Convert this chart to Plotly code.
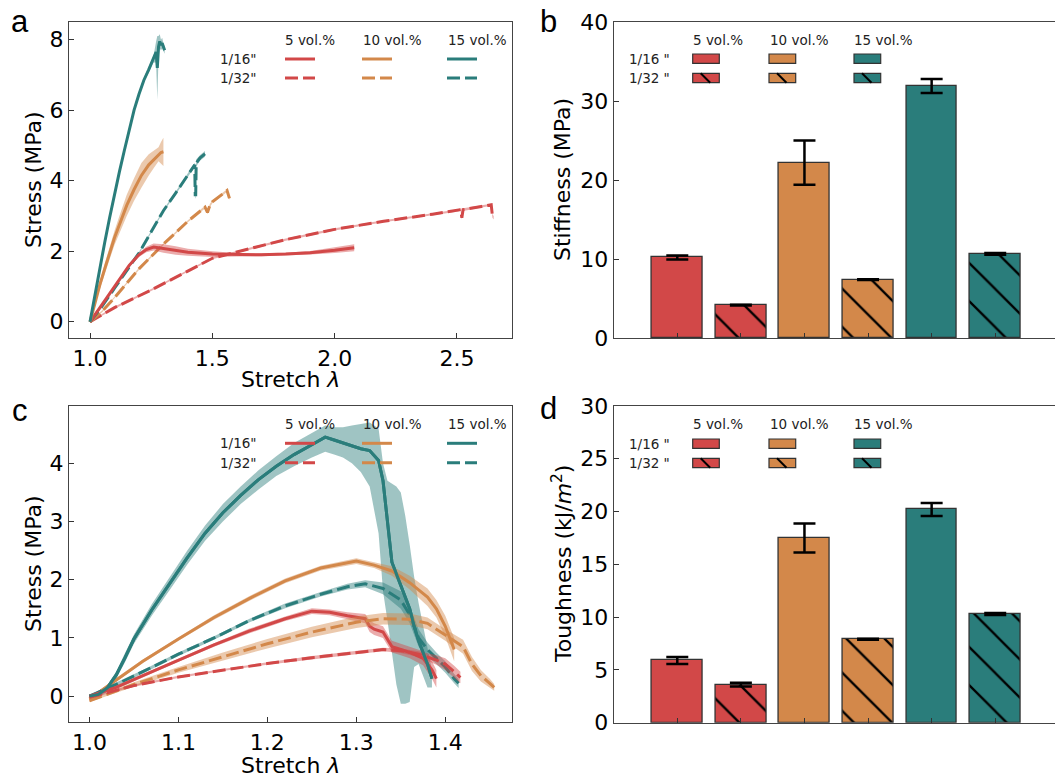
import plotly.graph_objects as go

W, H = 1055, 778


def px(x):
    return x / W


def py(y):
    return 1 - y / H


RED = "#D24848"
ORANGE = "#D3884A"
TEAL = "#2A7D7B"
RED_BAND = "rgba(210,72,72,0.45)"
ORANGE_BAND = "rgba(211,136,74,0.45)"
TEAL_BAND = "rgba(42,125,123,0.45)"

# ---------------- Panel a : stress-stretch (tension) ----------------
a_teal16_x = [1.0, 1.02, 1.04, 1.06, 1.08, 1.1, 1.12, 1.14, 1.16, 1.18, 1.2, 1.22, 1.24, 1.26, 1.27, 1.275, 1.28, 1.285, 1.29, 1.295, 1.30, 1.305]
a_teal16_y = [0.0, 0.78, 1.53, 2.25, 2.95, 3.62, 4.25, 4.85, 5.45, 6.0, 6.45, 6.85, 7.15, 7.45, 7.65, 7.2, 7.8, 7.95, 7.85, 7.9, 7.8, 7.7]
a_teal16_s = [0.03, 0.04, 0.05, 0.05, 0.05, 0.05, 0.05, 0.05, 0.05, 0.05, 0.05, 0.06, 0.08, 0.1, 0.3, 0.9, 0.3, 0.2, 0.15, 0.15, 0.1, 0.1]

a_orange16_x = [1.0, 1.02, 1.04, 1.06, 1.08, 1.1, 1.12, 1.15, 1.18, 1.21, 1.24, 1.26, 1.28, 1.29, 1.30]
a_orange16_y = [0.0, 0.55, 1.05, 1.5, 1.95, 2.38, 2.75, 3.3, 3.75, 4.15, 4.45, 4.6, 4.75, 4.8, 4.82]
a_orange16_s = [0.02, 0.06, 0.1, 0.15, 0.18, 0.2, 0.25, 0.3, 0.32, 0.35, 0.3, 0.25, 0.2, 0.3, 0.4]

a_red16_x = [1.0, 1.04, 1.08, 1.12, 1.16, 1.2, 1.23, 1.26, 1.3, 1.35, 1.4, 1.5, 1.6, 1.7, 1.8, 1.9, 2.0, 2.05, 2.08]
a_red16_y = [0.0, 0.4, 0.8, 1.2, 1.6, 1.9, 2.05, 2.12, 2.08, 2.02, 1.97, 1.92, 1.9, 1.9, 1.92, 1.96, 2.03, 2.08, 2.1]
a_red16_s = [0.02, 0.03, 0.03, 0.04, 0.05, 0.06, 0.08, 0.1, 0.12, 0.12, 0.1, 0.08, 0.05, 0.04, 0.04, 0.05, 0.08, 0.1, 0.1]

a_teal32_x = [1.0, 1.05, 1.1, 1.15, 1.2, 1.25, 1.3, 1.35, 1.4, 1.428, 1.43, 1.432, 1.434, 1.45, 1.47]
a_teal32_y = [0.0, 0.45, 0.95, 1.45, 1.95, 2.55, 3.15, 3.65, 4.15, 4.45, 3.6, 3.6, 4.5, 4.65, 4.76]
a_teal32_s = [0.02, 0.03, 0.03, 0.03, 0.03, 0.03, 0.03, 0.04, 0.05, 0.06, 0.1, 0.1, 0.1, 0.08, 0.08]

a_orange32_x = [1.0, 1.05, 1.1, 1.2, 1.3, 1.4, 1.47, 1.48, 1.49, 1.5, 1.56, 1.565, 1.57]
a_orange32_y = [0.0, 0.3, 0.68, 1.5, 2.2, 2.85, 3.25, 3.1, 3.3, 3.4, 3.72, 3.6, 3.5]
a_orange32_s = [0.02, 0.03, 0.03, 0.03, 0.03, 0.03, 0.04, 0.05, 0.05, 0.04, 0.04, 0.05, 0.05]

a_red32_x = [1.0, 1.1, 1.25, 1.4, 1.5, 1.6, 1.8, 2.0, 2.2, 2.4, 2.5, 2.515, 2.52, 2.525, 2.6, 2.64, 2.645, 2.65]
a_red32_y = [0.0, 0.4, 0.9, 1.45, 1.8, 1.98, 2.33, 2.62, 2.85, 3.05, 3.15, 3.18, 2.95, 3.18, 3.27, 3.32, 3.0, 2.95]
a_red32_s = [0.02, 0.03, 0.03, 0.03, 0.03, 0.03, 0.03, 0.03, 0.03, 0.03, 0.03, 0.04, 0.05, 0.04, 0.03, 0.03, 0.05, 0.05]

# ---------------- Panel c : stress-stretch (notched) ----------------
c_teal16_x = [1.0, 1.01, 1.02, 1.03, 1.04, 1.05, 1.07, 1.09, 1.11, 1.13, 1.15, 1.17, 1.19, 1.21, 1.23, 1.25, 1.265,
              1.275, 1.285, 1.295, 1.305, 1.315, 1.325, 1.33, 1.335, 1.34, 1.345, 1.35, 1.355, 1.36, 1.365, 1.37,
              1.375, 1.38, 1.385]
c_teal16_y = [0.0, 0.03, 0.14, 0.36, 0.66, 0.98, 1.48, 1.93, 2.38, 2.8, 3.15, 3.45, 3.72, 3.95, 4.15, 4.32, 4.45,
              4.4, 4.35, 4.3, 4.25, 4.22, 4.05, 3.7, 3.0, 2.3, 2.1, 1.9, 1.7, 1.5, 1.2, 0.95, 0.75, 0.55, 0.3]
c_teal16_lo = [-0.03, -0.02, 0.07, 0.3, 0.58, 0.9, 1.38, 1.82, 2.26, 2.67, 3.0, 3.3, 3.55, 3.78, 3.95, 4.1, 4.2,
               4.15, 4.1, 4.0, 3.85, 3.6, 2.8, 1.8, 1.3, 0.8, 0.2, -0.13, -0.13, -0.1, 0.5, 0.55, 0.35, 0.15, 0.15]
c_teal16_hi = [0.03, 0.07, 0.19, 0.42, 0.74, 1.06, 1.58, 2.04, 2.5, 2.93, 3.3, 3.6, 3.88, 4.12, 4.35, 4.52, 4.65,
               4.62, 4.62, 4.65, 4.68, 4.7, 4.6, 4.0, 3.7, 3.65, 3.6, 3.5, 3.1, 2.6, 2.05, 1.6, 1.2, 0.8, 0.45]

c_orange16_x = [1.0, 1.03, 1.06, 1.1, 1.14, 1.18, 1.22, 1.26, 1.3, 1.32, 1.34, 1.36, 1.38, 1.39, 1.40, 1.41]
c_orange16_y = [-0.05, 0.28, 0.6, 0.98, 1.35, 1.68, 1.98, 2.2, 2.32, 2.25, 2.15, 1.95, 1.7, 1.5, 1.2, 0.8]
c_orange16_s = [0.02, 0.03, 0.03, 0.03, 0.04, 0.04, 0.04, 0.04, 0.05, 0.05, 0.08, 0.12, 0.15, 0.15, 0.18, 0.2]

c_teal32_x = [1.0, 1.03, 1.06, 1.1, 1.14, 1.18, 1.22, 1.26, 1.29, 1.31, 1.33, 1.35, 1.36, 1.37, 1.38, 1.39, 1.40, 1.41, 1.415]
c_teal32_y = [0.0, 0.2, 0.42, 0.72, 1.0, 1.3, 1.55, 1.75, 1.88, 1.93, 1.85, 1.65, 1.4, 1.0, 0.8, 0.65, 0.5, 0.3, 0.22]
c_teal32_s = [0.02, 0.03, 0.03, 0.03, 0.03, 0.03, 0.04, 0.04, 0.05, 0.06, 0.1, 0.15, 0.15, 0.15, 0.12, 0.1, 0.1, 0.08, 0.08]

c_red16_x = [1.0, 1.03, 1.06, 1.1, 1.14, 1.18, 1.22, 1.25, 1.27, 1.29, 1.31, 1.315, 1.32, 1.33, 1.34, 1.35, 1.36, 1.375, 1.385, 1.39]
c_red16_y = [0.0, 0.15, 0.35, 0.62, 0.88, 1.12, 1.33, 1.46, 1.44, 1.38, 1.33, 1.2, 1.15, 1.1, 0.85, 0.8, 0.75, 0.65, 0.45, 0.3]
c_red16_s = [0.02, 0.03, 0.03, 0.03, 0.03, 0.04, 0.04, 0.05, 0.05, 0.06, 0.08, 0.1, 0.1, 0.1, 0.1, 0.1, 0.1, 0.12, 0.15, 0.15]

c_orange32_x = [1.0, 1.05, 1.1, 1.15, 1.2, 1.25, 1.3, 1.33, 1.36, 1.38, 1.4, 1.42, 1.43, 1.44, 1.45, 1.455]
c_orange32_y = [-0.08, 0.2, 0.45, 0.68, 0.9, 1.1, 1.27, 1.33, 1.32, 1.25, 1.05, 0.85, 0.55, 0.35, 0.22, 0.15]
c_orange32_s = [0.02, 0.04, 0.05, 0.07, 0.08, 0.09, 0.1, 0.1, 0.1, 0.1, 0.1, 0.12, 0.12, 0.1, 0.08, 0.06]

c_red32_x = [1.0, 1.05, 1.1, 1.15, 1.2, 1.25, 1.3, 1.33, 1.35, 1.37, 1.39, 1.40, 1.41, 1.417]
c_red32_y = [-0.02, 0.18, 0.33, 0.45, 0.56, 0.66, 0.75, 0.8, 0.78, 0.72, 0.62, 0.55, 0.42, 0.32]
c_red32_s = [0.02, 0.02, 0.02, 0.02, 0.02, 0.03, 0.03, 0.03, 0.04, 0.05, 0.08, 0.1, 0.1, 0.1]

# ---------------- Panels b, d : bars ----------------
bar_pos = [0, 1, 2, 3, 4, 5]
bar_colors = [RED, RED, ORANGE, ORANGE, TEAL, TEAL]
bar_hatch = ["", "\\", "", "\\", "", "\\"]
stiffness = [10.2, 4.15, 22.2, 7.4, 31.9, 10.65]
stiffness_err = [0.25, 0.05, 2.8, 0.05, 0.9, 0.1]
toughness = [5.9, 3.6, 17.5, 7.9, 20.2, 10.3]
toughness_err = [0.33, 0.18, 1.37, 0.05, 0.62, 0.1]

vol_labels = ["5 vol.%", "10 vol.%", "15 vol.%"]
thick_labels_line = ['1/16"', '1/32"']
thick_labels_bar = ['1/16 "', '1/32 "']

fig = go.Figure()


def add_curve(x, y, lo, hi, color, band, dash, xa, ya):
    fig.add_trace(go.Scatter(x=x + x[::-1], y=hi + lo[::-1], fill="toself", fillcolor=band,
                             line=dict(width=0), mode="lines", hoverinfo="skip", showlegend=False,
                             xaxis=xa, yaxis=ya))
    fig.add_trace(go.Scatter(x=x, y=y, mode="lines",
                             line=dict(color=color, width=3, dash=("13px,5px" if dash else "solid")),
                             showlegend=False, xaxis=xa, yaxis=ya))


def spread(y, s):
    return [v - d for v, d in zip(y, s)], [v + d for v, d in zip(y, s)]


# panel a
for x, y, s, c, b, d in [
    (a_red32_x, a_red32_y, a_red32_s, RED, RED_BAND, True),
    (a_orange32_x, a_orange32_y, a_orange32_s, ORANGE, ORANGE_BAND, True),
    (a_teal32_x, a_teal32_y, a_teal32_s, TEAL, TEAL_BAND, True),
    (a_red16_x, a_red16_y, a_red16_s, RED, RED_BAND, False),
    (a_orange16_x, a_orange16_y, a_orange16_s, ORANGE, ORANGE_BAND, False),
    (a_teal16_x, a_teal16_y, a_teal16_s, TEAL, TEAL_BAND, False),
]:
    lo, hi = spread(y, s)
    add_curve(x, y, lo, hi, c, b, d, "x", "y")

# panel c
add_curve(c_teal16_x, c_teal16_y, c_teal16_lo, c_teal16_hi, TEAL, TEAL_BAND, False, "x3", "y3")
for x, y, s, c, b, d in [
    (c_orange16_x, c_orange16_y, c_orange16_s, ORANGE, ORANGE_BAND, False),
    (c_teal32_x, c_teal32_y, c_teal32_s, TEAL, TEAL_BAND, True),
    (c_red16_x, c_red16_y, c_red16_s, RED, RED_BAND, False),
    (c_orange32_x, c_orange32_y, c_orange32_s, ORANGE, ORANGE_BAND, True),
    (c_red32_x, c_red32_y, c_red32_s, RED, RED_BAND, True),
]:
    lo, hi = spread(y, s)
    add_curve(x, y, lo, hi, c, b, d, "x3", "y3")
fig.add_trace(go.Scatter(x=c_teal16_x, y=c_teal16_y, mode="lines", line=dict(color=TEAL, width=3),
                         showlegend=False, xaxis="x3", yaxis="y3"))

# bars: one trace per bar so each gets a scalar colour and its own hatch
for vals, errs, xa, ya in [(stiffness, stiffness_err, "x2", "y2"), (toughness, toughness_err, "x4", "y4")]:
    for pos, v, e, col, hatch in zip(bar_pos, vals, errs, bar_colors, bar_hatch):
        marker = dict(color=col, line=dict(color="#333333", width=1.3))
        if hatch:
            marker["pattern"] = dict(shape=hatch, fgcolor="#000000", bgcolor=col, fillmode="overlay",
                                     fgopacity=1, size=27, solidity=0.085)
        fig.add_trace(go.Bar(
            x=[pos], y=[v], width=0.8, marker=marker,
            error_y=dict(type="data", array=[e], color="black", thickness=2.5, width=11),
            showlegend=False, xaxis=xa, yaxis=ya))

TICKFONT = dict(family="DejaVu Sans", size=22, color="black")
LINE_COLOR = "#444444"


def line_axis(domain, rng, tickvals, fmt, anchor, mirror=True):
    return dict(domain=domain, range=rng, tickvals=tickvals, tickformat=fmt, ticks="inside", ticklen=5,
                tickwidth=1, tickcolor="#333333", showline=True, linecolor=LINE_COLOR, linewidth=1.2,
                mirror=mirror, showgrid=False, zeroline=False, tickfont=TICKFONT, anchor=anchor,
                automargin=False)


xa_dom = [px(69), px(512)]
xb_dom = [px(613.7), 1.0]
ya_dom = [py(338), py(22)]
yc_dom = [py(722.3), py(405.7)]
yd_dom = [py(722.7), py(406)]

fig.update_layout(
    width=W, height=H, margin=dict(l=0, r=0, t=0, b=0, pad=0, autoexpand=False),
    paper_bgcolor="white", plot_bgcolor="white", showlegend=False,
    font=dict(family="DejaVu Sans", color="black"),
    barmode="overlay", bargap=0,
    xaxis=line_axis(xa_dom, [0.914, 2.725], [1.0, 1.5, 2.0, 2.5], ".1f", "y"),
    yaxis=line_axis(ya_dom, [-0.46, 8.5], [0, 2, 4, 6, 8], "d", "x"),
    xaxis3=line_axis(xa_dom, [0.977, 1.475], [1.0, 1.1, 1.2, 1.3, 1.4], ".1f", "y3"),
    yaxis3=line_axis(yc_dom, [-0.45, 4.99], [0, 1, 2, 3, 4], "d", "x3"),
    xaxis2=dict(line_axis(xb_dom, [-1, 5.94], bar_pos, "d", "y2"), showticklabels=False),
    yaxis2=line_axis(ya_dom, [0, 40], [0, 10, 20, 30, 40], "d", "x2", mirror=False),
    xaxis4=dict(line_axis(xb_dom, [-1, 5.94], bar_pos, "d", "y4"), showticklabels=False),
    yaxis4=line_axis(yd_dom, [0, 30], [0, 5, 10, 15, 20, 25, 30], "d", "x4", mirror=False),
)

annotations = []
shapes = []


def text(x, y, s, size, xanchor="center", angle=0, family="DejaVu Sans", color="black"):
    annotations.append(dict(x=px(x), y=py(y), xref="paper", yref="paper", text=s, showarrow=False,
                            xanchor=xanchor, yanchor="middle", textangle=angle,
                            font=dict(family=family, size=size, color=color)))


# panel letters
for lx, ly, s in [(20, 22, "a"), (548, 22, "b"), (20, 410, "c"), (548, 408, "d")]:
    text(lx, ly, s, 31, family="Liberation Sans")

# axis titles
text(33, 180, "Stress (MPa)", 22, angle=-90)
text(290.5, 380, "Stretch <i>λ</i>", 22)
text(33, 564, "Stress (MPa)", 22, angle=-90)
text(290.5, 765, "Stretch <i>λ</i>", 22)
text(562, 180, "Stiffness (MPa)", 22, angle=-90)
text(562, 564, "Toughness (kJ/<i>m</i><sup>2</sup>)", 22, angle=-90)

# line legends (panels a, c)
col_cx = [310, 392.7, 477.7]
seg_x = [(285, 315), (362, 392), (447, 477)]
cols = [RED, ORANGE, TEAL]
for hy, r1, r2 in [(40, 59, 78), (424.3, 443.3, 462.7)]:
    for cx, lab in zip(col_cx, vol_labels):
        text(cx, hy, lab, 13.5, color="#222222")
    text(259, r1, thick_labels_line[0], 13.5, xanchor="right", color="#222222")
    text(259, r2, thick_labels_line[1], 13.5, xanchor="right", color="#222222")
    for (x0, x1), c in zip(seg_x, cols):
        shapes.append(dict(type="line", xref="paper", yref="paper", x0=px(x0), x1=px(x1), y0=py(r1), y1=py(r1),
                           line=dict(color=c, width=3)))
        shapes.append(dict(type="line", xref="paper", yref="paper", x0=px(x0), x1=px(x1), y0=py(r2), y1=py(r2),
                           line=dict(color=c, width=3, dash="13px,5px")))

# bar legends (panels b, d)
bcol_cx = [718.3, 799, 883.3]
box_x = [(692.7, 719.3), (769, 795.7), (854, 880.7)]
for hy, rows in [(40, [(54, 63.3), (73.3, 82.7)]), (424.3, [(439, 448.3), (458.3, 467.7)])]:
    for cx, lab in zip(bcol_cx, vol_labels):
        text(cx, hy, lab, 13.5, color="#222222")
    for (y0, y1), lab in zip(rows, thick_labels_bar):
        text(626.7, (y0 + y1) / 2, lab, 13.5, xanchor="left", color="#222222")
    for (x0, x1), c in zip(box_x, cols):
        for i, (y0, y1) in enumerate(rows):
            shapes.append(dict(type="rect", xref="paper", yref="paper", x0=px(x0), x1=px(x1), y0=py(y1), y1=py(y0),
                               fillcolor=c, line=dict(color="#333333", width=1.2)))
            if i == 1:
                shapes.append(dict(type="line", xref="paper", yref="paper", x0=px(x0 + 8), x1=px(x0 + 17.5),
                                   y0=py(y0), y1=py(y1), line=dict(color="black", width=2)))

fig.update_layout(annotations=annotations, shapes=shapes)
fig.write_html("out.html")
